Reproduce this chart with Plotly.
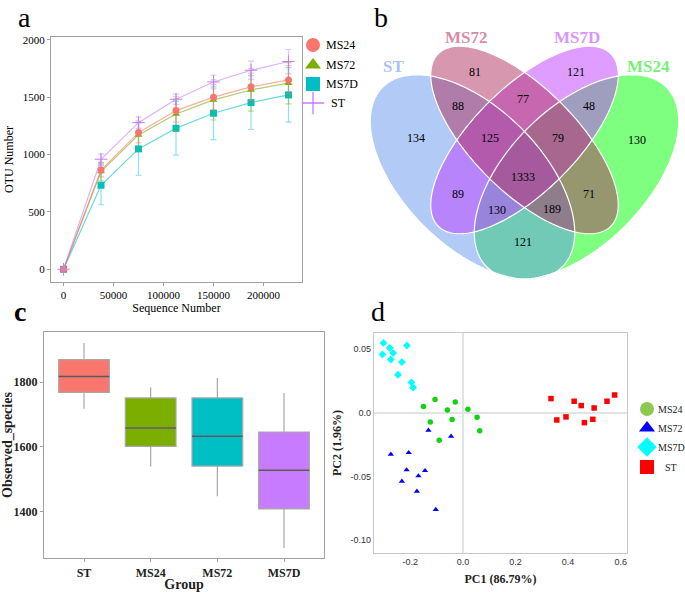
import numpy as np
import plotly.graph_objects as go

W, H = 685, 592
def px(x): return x / W
def py(y): return 1 - y / H

SERIF = "Liberation Serif"
SANS = "Liberation Sans"

# ---------------- Panel a: rarefaction ----------------
seq = [0, 37500, 75000, 112500, 150000, 187500, 225000]
a_groups = ["MS24", "MS72", "MS7D", "ST"]
otu_MS24 = [0, 866, 1192, 1384, 1501, 1591, 1652]
otu_MS72 = [0, 852, 1172, 1355, 1477, 1564, 1623]
otu_MS7D = [0, 733, 1050, 1230, 1361, 1454, 1521]
otu_ST = [0, 960, 1279, 1483, 1634, 1736, 1812]
err_MS24 = [0, 60, 90, 100, 110, 120, 125]
err_MS72 = [0, 80, 120, 150, 175, 185, 180]
err_MS7D = [0, 170, 230, 235, 230, 235, 238]
err_ST = [0, 45, 50, 45, 60, 80, 105]
a_x_ticks = [0, 50000, 100000, 150000, 200000]
a_y_ticks = [0, 500, 1000, 1500, 2000]

# ---------------- Panel b: Venn ----------------
venn_sets = ["ST", "MS72", "MS7D", "MS24"]
venn_counts = [134, 81, 121, 130, 88, 77, 48, 125, 79, 1333, 89, 71, 130, 189, 121]

# ---------------- Panel c: box plot ----------------
c_groups = ["ST", "MS24", "MS72", "MS7D"]
c_low = [1718, 1540, 1448, 1289]
c_q1 = [1768, 1602, 1541, 1409]
c_med = [1817, 1658, 1633, 1528]
c_q3 = [1869, 1751, 1751, 1646]
c_high = [1920, 1784, 1812, 1766]
c_y_ticks = [1400, 1600, 1800]

# ---------------- Panel d: PCA ----------------
d_groups = ["MS24", "MS72", "MS7D", "ST"]
d_MS24_x = [-0.150, -0.106, -0.029, -0.059, 0.019, -0.124, -0.041, 0.054, 0.064, -0.090]
d_MS24_y = [0.0050, 0.0105, 0.0086, 0.0024, 0.0029, -0.0071, -0.0052, -0.0034, -0.0139, -0.0215]
d_MS72_x = [-0.131, -0.045, -0.274, -0.206, -0.214, -0.144, -0.232, -0.169, -0.175, -0.103]
d_MS72_y = [-0.0136, -0.0183, -0.0325, -0.0312, -0.0448, -0.0453, -0.0537, -0.0495, -0.0615, -0.0759]
d_MS7D_x = [-0.302, -0.278, -0.265, -0.306, -0.274, -0.213, -0.232, -0.247, -0.196, -0.189]
d_MS7D_y = [0.055, 0.051, 0.047, 0.046, 0.042, 0.053, 0.040, 0.030, 0.024, 0.020]
d_ST_x = [0.335, 0.423, 0.450, 0.499, 0.548, 0.577, 0.392, 0.357, 0.462, 0.494]
d_ST_y = [0.0113, 0.0092, 0.0058, 0.0039, 0.0092, 0.0141, -0.0031, -0.0055, -0.0076, -0.0050]
d_x_ticks = [-0.2, 0.0, 0.2, 0.4, 0.6]
d_y_ticks = [-0.10, -0.05, 0.0, 0.05]

fig = go.Figure()

# ---- Panel a traces ----
a_cols = {"MS24": "#F8766D", "MS72": "#7CAE00", "MS7D": "#00BFC4", "ST": "#C77CFF"}
a_rgba = {"MS24": "248,118,109", "MS72": "124,174,0", "MS7D": "0,191,196", "ST": "199,124,255"}
a_sym = {"MS24": "circle", "MS72": "triangle-up", "MS7D": "square", "ST": "cross-thin"}
a_vals = {"MS24": (otu_MS24, err_MS24), "MS72": (otu_MS72, err_MS72),
          "MS7D": (otu_MS7D, err_MS7D), "ST": (otu_ST, err_ST)}
for g in ["MS7D", "MS72", "MS24", "ST"]:
    y, e = a_vals[g]
    fig.add_trace(go.Scatter(
        x=seq, y=y, mode="lines+markers", xaxis="x", yaxis="y", showlegend=False,
        line=dict(color=f"rgba({a_rgba[g]},0.6)", width=1.2),
        marker=dict(symbol=a_sym[g], size=7 if g != "ST" else 9, color=a_cols[g],
                    line=dict(color=a_cols[g], width=1 if g == "ST" else 0)),
        error_y=dict(type="data", array=e, visible=True, color=f"rgba({a_rgba[g]},0.45)",
                     thickness=1.2, width=3)))

# ---- Panel c traces ----
c_cols = ["#F8766D", "#7CAE00", "#00BFC4", "#C77CFF"]
for i, g in enumerate(c_groups):
    fig.add_trace(go.Box(
        x=[i], q1=[c_q1[i]], median=[c_med[i]], q3=[c_q3[i]],
        lowerfence=[c_low[i]], upperfence=[c_high[i]], width=0.76,
        xaxis="x2", yaxis="y2", showlegend=False, fillcolor=c_cols[i],
        line=dict(color="#A8A8A8", width=1.2), whiskerwidth=0, boxpoints=False,
        hoverinfo="skip"))
    fig.add_trace(go.Scatter(
        x=[i - 0.38, i + 0.38], y=[c_med[i], c_med[i]], mode="lines",
        xaxis="x2", yaxis="y2", showlegend=False,
        line=dict(color="#5A5A5A", width=1.5)))

# ---- Panel d traces ----
d_data = [("MS24", d_MS24_x, d_MS24_y, "circle", "#11D411", "#8DC84F"),
          ("MS72", d_MS72_x, d_MS72_y, "triangle-up", "#0000FF", "#0000FF"),
          ("MS7D", d_MS7D_x, d_MS7D_y, "diamond", "#00FFFF", "#00FFFF"),
          ("ST", d_ST_x, d_ST_y, "square", "#FF0000", "#FF0000")]
for name, xs, ys, sym, col, lcol in d_data:
    fig.add_trace(go.Scatter(
        x=xs, y=ys, mode="markers", xaxis="x4", yaxis="y4", showlegend=False,
        marker=dict(symbol=sym, size=5.5 if sym != "diamond" else 6, color=col)))

# ---- manual legend keys on a hidden pixel-space overlay axis ----
annotations = []
def note(x, y, text, size, color="black", xanchor="center", family=SERIF):
    annotations.append(dict(x=px(x), y=py(y), xref="paper", yref="paper", text=text,
                            xanchor=xanchor, yanchor="middle", showarrow=False,
                            font=dict(family=family, size=size, color=color)))

leg_a_y = [45, 65, 84, 103]
for g, yy in zip(a_groups, leg_a_y):
    fig.add_trace(go.Scatter(
        x=[313], y=[yy], mode="markers", xaxis="x5", yaxis="y5", showlegend=False,
        hoverinfo="skip",
        marker=dict(symbol=a_sym[g], size=14 if g != "ST" else 16, color=a_cols[g],
                    line=dict(color=a_cols[g], width=1.3 if g == "ST" else 0))))
    note(324 if g != "ST" else 329, yy, g, 12, xanchor="left")
leg_d_y = [409, 428, 447, 467]
for (name, xs, ys, sym, col, lcol), yy in zip(d_data, leg_d_y):
    fig.add_trace(go.Scatter(
        x=[647], y=[yy], mode="markers", xaxis="x5", yaxis="y5", showlegend=False,
        hoverinfo="skip", marker=dict(symbol=sym, size=14 if sym != "diamond" else 15, color=lcol)))
    note(656 if name != "ST" else 663, yy, name, 10, color="#222", xanchor="left")

# ---- Panel b: Venn ellipses drawn in pixel space (x5/y5) ----
XC = 524.5
# (centre x, centre y, semi-major, semi-minor, major-axis direction: +1 = down-right, -1 = up-right)
ell = {"ST": (XC - 52, 177, 127, 69, 1), "MS72": (XC, 140, 122, 52, 1),
       "MS7D": (XC, 140, 122, 52, -1), "MS24": (XC + 52, 177, 127, 69, -1)}
venn_fill = {"ST": "100,149,237", "MS72": "176,48,96", "MS7D": "191,62,255", "MS24": "0,255,0"}
t = np.linspace(0, 2 * np.pi, 160)

def ell_path(cx, cy, a, b, d):
    ux, uy = np.array([1.0, d]) / np.sqrt(2)
    vx, vy = -uy, ux
    xs = cx + a * np.cos(t) * ux + b * np.sin(t) * vx
    ys = cy + a * np.cos(t) * uy + b * np.sin(t) * vy
    return "M " + " L ".join(f"{p:.2f},{q:.2f}" for p, q in zip(xs, ys)) + " Z"

shapes = []
order = ["MS24", "ST", "MS7D", "MS72"]
for s in order:
    shapes.append(dict(type="path", path=ell_path(*ell[s]), xref="x5", yref="y5",
                       fillcolor=f"rgba({venn_fill[s]},0.5)", line=dict(width=0), layer="above"))
for s in order:
    shapes.append(dict(type="path", path=ell_path(*ell[s]), xref="x5", yref="y5",
                       fillcolor="rgba(0,0,0,0)", line=dict(width=1.2, color="white"), layer="above"))

count_pos = [(416, 138), (475, 72), (576, 72), (637, 140), (458, 106), (523, 99), (589, 106),
             (490, 138), (558, 138), (523, 177), (458, 194), (589, 194), (497, 210), (552, 209),
             (523, 242)]
for n, (x, y) in zip(venn_counts, count_pos):
    note(x, y, str(n), 12)
set_pos = {"ST": (393, 67), "MS72": (466, 37), "MS7D": (577, 37), "MS24": (648, 67)}
set_col = {"ST": "rgb(170,196,242)", "MS72": "rgb(214,140,165)", "MS7D": "rgb(218,150,250)",
           "MS24": "rgb(120,240,120)"}
for s in venn_sets:
    x, y = set_pos[s]
    note(x, y, f"<b>{s}</b>", 17, color=set_col[s])

# panel letters
for lab, x, y, bold in [("a", 25, 17, False), ("b", 381, 17, False), ("c", 20, 312, True), ("d", 378, 312, False)]:
    note(x, y, f"<b>{lab}</b>" if bold else lab, 28)

ax_common = dict(showgrid=False, zeroline=False, showline=True, mirror=True,
                 linecolor="#A0A0A0", linewidth=1.2, ticks="outside", ticklen=3,
                 tickcolor="#A0A0A0", automargin=False)

fig.update_layout(
    width=W, height=H, margin=dict(l=0, r=0, t=0, b=0, autoexpand=False),
    paper_bgcolor="white", plot_bgcolor="rgba(0,0,0,0)", boxmode="overlay",
    showlegend=False,
    xaxis=dict(domain=[px(51), px(302)], range=[-12500, 238500], tickvals=a_x_ticks,
               ticktext=[str(v) for v in a_x_ticks], anchor="y",
               tickfont=dict(family=SERIF, size=11, color="black"),
               title=dict(text="Sequence Number", font=dict(family=SERIF, size=12, color="black"), standoff=3),
               **ax_common),
    yaxis=dict(domain=[py(282), py(37)], range=[-111, 2026], tickvals=a_y_ticks, anchor="x",
               tickfont=dict(family=SERIF, size=11, color="black"),
               title=dict(text="OTU Number", font=dict(family=SERIF, size=12, color="black"), standoff=6),
               **ax_common),
    xaxis2=dict(domain=[px(44), px(324)], range=[-0.6, 3.6], tickvals=[0, 1, 2, 3],
                ticktext=[f"<b>{g}</b>" for g in c_groups],
                anchor="y2", tickfont=dict(family=SERIF, size=12, color="#222"),
                title=dict(text="<b>Group</b>", font=dict(family=SERIF, size=14, color="#222"), standoff=2),
                **ax_common),
    yaxis2=dict(domain=[py(558), py(332)], range=[1258, 1954], tickvals=c_y_ticks,
                ticktext=[f"<b>{v}</b>" for v in c_y_ticks], anchor="x2",
                tickfont=dict(family=SERIF, size=12, color="#222"),
                title=dict(text="<b>Observed_species</b>", font=dict(family=SERIF, size=14, color="#222"), standoff=6),
                **ax_common),
    xaxis4=dict(domain=[px(374), px(627)], range=[-0.338, 0.624], tickvals=d_x_ticks,
                ticktext=["-0.2", "0.0", "0.2", "0.4", "0.6"], anchor="y4",
                showgrid=False, zeroline=True, zerolinecolor="#E3E3E3", zerolinewidth=1.5,
                showline=True, mirror=True, linecolor="#C8C8C8", linewidth=1.2, ticks="",
                automargin=False, tickfont=dict(family=SANS, size=9, color="#333"),
                title=dict(text="<b>PC1 (86.79%)</b>", font=dict(family=SERIF, size=12, color="#222"), standoff=8)),
    yaxis4=dict(domain=[py(553), py(333)], range=[-0.110, 0.0628], tickvals=d_y_ticks,
                ticktext=["-0.10", "-0.05", "0.0", "0.05"], anchor="x4",
                showgrid=False, zeroline=True, zerolinecolor="#E3E3E3", zerolinewidth=1.5,
                showline=True, mirror=True, linecolor="#C8C8C8", linewidth=1.2, ticks="",
                automargin=False, tickfont=dict(family=SANS, size=9, color="#333"),
                title=dict(text="<b>PC2 (1.96%)</b>", font=dict(family=SERIF, size=12, color="#222"), standoff=6)),
    xaxis5=dict(domain=[0, 1], range=[0, W], visible=False, anchor="y5", fixedrange=True),
    yaxis5=dict(domain=[0, 1], range=[H, 0], visible=False, anchor="x5", fixedrange=True),
    shapes=shapes, annotations=annotations,
)

fig.write_html("out.html", config={"displayModeBar": False},
               post_script="document.body.style.margin='0px';document.body.style.padding='0px';"
                           "document.body.style.overflow='hidden';")
